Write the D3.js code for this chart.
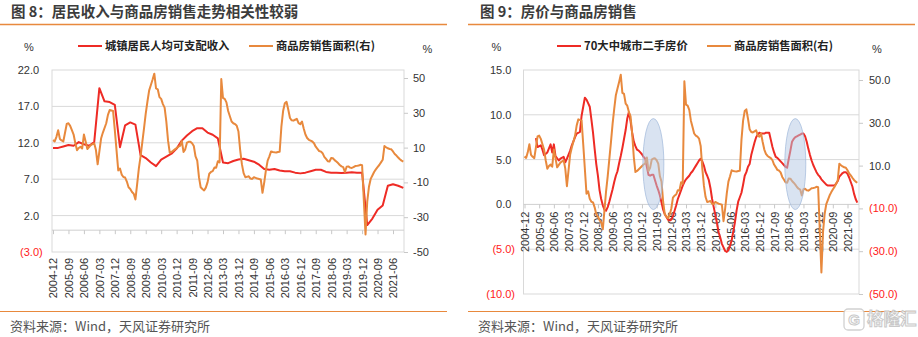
<!DOCTYPE html>
<html><head><meta charset="utf-8">
<script src="https://cdn.jsdelivr.net/npm/d3@7"></script>
<style>
body{margin:0;background:#fff;}
svg{display:block;}
.num{font-family:"Liberation Sans",Arial,sans-serif;}
.cjk{font-family:"Noto Sans CJK SC","Liberation Sans",sans-serif;}
</style>
</head><body>
<svg id="c" width="918" height="337"></svg>
<script>
// ---------------- DATA ----------------
const tickLabels = ["2004-12","2005-09","2006-06","2007-03","2007-12","2008-09","2009-06","2010-03","2010-12","2011-09","2012-06","2013-03","2013-12","2014-09","2015-06","2016-03","2016-12","2017-09","2018-06","2019-03","2019-12","2020-09","2021-06"];

// 城镇居民人均可支配收入 (%), quarterly
const incomeDates = ["2004-12","2005-03","2005-06","2005-09","2005-12","2006-03","2006-06","2006-09","2006-12","2007-03","2007-06","2007-09","2007-12","2008-03","2008-06","2008-09","2008-12","2009-03","2009-06","2009-09","2009-12","2010-03","2010-06","2010-09","2010-12","2011-03","2011-06","2011-09","2011-12","2012-03","2012-06","2012-09","2012-12","2013-03","2013-06","2013-09","2013-12","2014-03","2014-06","2014-09","2014-12","2015-03","2015-06","2015-09","2015-12","2016-03","2016-06","2016-09","2016-12","2017-03","2017-06","2017-09","2017-12","2018-03","2018-06","2018-09","2018-12","2019-03","2019-06","2019-09","2019-12","2020-03","2020-06","2020-09","2020-12","2021-03","2021-06","2021-09","2021-12"];
const incomeValues = [11.3,11.3,11.5,11.7,11.6,12.1,11.8,11.6,12.1,19.5,17.7,17.6,17.2,11.4,14.4,14.8,14.5,10.3,9.9,9.3,8.8,9.7,10.1,10.5,11.2,12.3,13.0,13.6,14.0,14.0,13.4,13.1,12.6,9.3,9.2,9.5,9.7,9.8,9.6,9.4,9.0,8.4,8.3,8.4,8.2,8.1,8.1,7.9,7.8,7.9,8.1,8.3,8.3,8.0,7.9,7.9,7.85,7.9,7.95,7.9,7.9,0.7,1.6,2.8,3.4,6.1,6.3,6.1,5.8];

// 商品房销售面积 (%, right axis), monthly
const salesDates = ["2004-12","2005-01","2005-02","2005-03","2005-04","2005-05","2005-06","2005-08","2005-09","2005-10","2005-11","2005-12","2006-01","2006-02","2006-03","2006-04","2006-05","2006-06","2006-07","2006-08","2006-10","2006-12","2007-01","2007-02","2007-04","2007-05","2007-07","2007-08","2007-09","2007-11","2007-12","2008-02","2008-03","2008-04","2008-05","2008-06","2008-07","2008-08","2008-09","2008-10","2008-11","2008-12","2009-01","2009-02","2009-03","2009-04","2009-05","2009-06","2009-07","2009-08","2009-09","2009-10","2009-11","2009-12","2010-01","2010-02","2010-03","2010-04","2010-05","2010-06","2010-07","2010-08","2010-09","2010-11","2011-01","2011-02","2011-03","2011-04","2011-05","2011-06","2011-07","2011-08","2011-09","2011-10","2011-11","2011-12","2012-01","2012-02","2012-03","2012-04","2012-05","2012-06","2012-07","2012-08","2012-09","2012-10","2012-11","2012-12","2013-01","2013-02","2013-03","2013-04","2013-05","2013-06","2013-07","2013-08","2013-09","2013-10","2013-11","2013-12","2014-01","2014-02","2014-03","2014-04","2014-05","2014-06","2014-07","2014-08","2014-09","2014-10","2014-11","2014-12","2015-01","2015-02","2015-03","2015-04","2015-05","2015-06","2015-07","2015-08","2015-09","2015-10","2015-11","2015-12","2016-01","2016-02","2016-03","2016-04","2016-05","2016-06","2016-07","2016-08","2016-09","2016-10","2016-11","2016-12","2017-01","2017-02","2017-03","2017-04","2017-05","2017-06","2017-07","2017-08","2017-09","2017-10","2017-11","2017-12","2018-01","2018-02","2018-03","2018-04","2018-05","2018-06","2018-07","2018-08","2018-09","2018-10","2018-11","2018-12","2019-01","2019-02","2019-03","2019-04","2019-05","2019-06","2019-07","2019-08","2019-09","2019-10","2019-11","2019-12","2020-02","2020-03","2020-04","2020-05","2020-06","2020-07","2020-08","2020-09","2020-10","2020-11","2020-12","2021-01","2021-02","2021-03","2021-04","2021-05","2021-06","2021-07","2021-08","2021-09","2021-10","2021-11","2021-12"];
const salesValues = [14.3,13.6,16.2,20.0,15.0,14.1,13.5,23.6,24.0,22.5,20.0,17.5,12.5,8.5,9.8,10.5,9.5,17.5,13.5,9.2,11.4,12.5,8.6,0.4,15.2,18.5,24.0,28.8,31.6,31.0,20.0,-3.1,-2.0,-5.5,-6.9,-7.2,-9.5,-12.8,-13.8,-15.5,-16.5,-19.8,-11.0,-2.0,5.0,13.0,21.0,29.5,36.5,42.9,46.0,49.1,52.5,44.0,43.5,39.0,38.0,35.0,33.0,24.9,14.0,7.0,7.5,9.0,10.5,11.0,13.8,7.5,9.0,12.8,13.3,13.4,12.5,10.9,5.0,2.5,-7.0,-12.8,-13.8,-14.6,-13.0,-10.0,-5.0,-4.0,-3.5,-1.5,-1.6,2.2,1.5,49.4,38.5,38.0,36.0,31.0,28.0,25.0,24.0,23.5,22.6,19.2,8.6,0.5,-4.7,-7.0,-6.8,-6.5,-7.8,-8.0,-7.0,-7.4,-7.8,-8.0,-8.3,-16.0,-10.1,-3.0,2.5,5.0,7.8,7.5,7.3,7.2,7.5,7.6,22.0,31.0,35.5,36.3,31.9,27.0,25.7,25.5,26.0,26.5,24.1,23.5,25.0,21.0,17.5,15.5,14.5,14.0,13.5,12.5,10.5,9.3,8.0,7.7,6.8,4.7,3.5,2.2,2.0,4.0,3.9,2.8,2.0,1.1,0.0,-0.8,-1.2,-4.0,-1.0,-0.8,-1.5,-1.7,-1.2,-0.6,-0.5,-0.3,0.1,-0.1,-39.9,-21.0,-12.5,-8.0,-6.0,-4.0,-2.5,-1.2,0.0,1.5,3.0,10.9,10.2,9.6,9.2,9.0,7.8,6.3,5.4,4.3,3.3,2.5,2.0];

// 70大中城市二手房价 (%), monthly
const priceDates = ["2005-07","2005-08","2005-10","2005-11","2005-12","2006-02","2006-04","2006-05","2006-06","2006-07","2006-09","2006-10","2006-12","2007-01","2007-02","2007-04","2007-05","2007-07","2007-08","2007-10","2007-11","2008-01","2008-02","2008-03","2008-04","2008-05","2008-06","2008-07","2008-08","2008-09","2008-10","2008-11","2008-12","2009-01","2009-02","2009-03","2009-04","2009-05","2009-06","2009-07","2009-08","2009-09","2009-10","2009-11","2009-12","2010-01","2010-02","2010-03","2010-04","2010-05","2010-06","2010-07","2010-08","2010-09","2010-10","2010-11","2010-12","2011-01","2011-02","2011-03","2011-04","2011-05","2011-06","2011-07","2011-08","2011-09","2011-10","2011-11","2011-12","2012-01","2012-02","2012-03","2012-04","2012-05","2012-06","2012-07","2012-08","2012-09","2012-10","2012-11","2012-12","2013-01","2013-02","2013-03","2013-04","2013-05","2013-06","2013-07","2013-08","2013-09","2013-10","2013-11","2013-12","2014-01","2014-02","2014-03","2014-04","2014-05","2014-06","2014-07","2014-08","2014-09","2014-10","2014-11","2014-12","2015-01","2015-02","2015-03","2015-04","2015-05","2015-06","2015-07","2015-08","2015-09","2015-10","2015-11","2015-12","2016-01","2016-02","2016-03","2016-04","2016-05","2016-06","2016-07","2016-08","2016-09","2016-10","2016-11","2016-12","2017-01","2017-02","2017-03","2017-04","2017-05","2017-06","2017-07","2017-08","2017-09","2017-10","2017-11","2017-12","2018-01","2018-02","2018-03","2018-04","2018-05","2018-06","2018-07","2018-08","2018-09","2018-10","2018-11","2018-12","2019-01","2019-02","2019-03","2019-04","2019-05","2019-06","2019-07","2019-08","2019-09","2019-10","2019-11","2019-12","2020-01","2020-02","2020-03","2020-04","2020-05","2020-06","2020-07","2020-08","2020-09","2020-10","2020-11","2020-12","2021-01","2021-02","2021-03","2021-04","2021-05","2021-06","2021-07","2021-08","2021-09","2021-10","2021-11","2021-12"];
const priceValues = [7.4,6.4,6.6,6.1,5.5,5.8,6.7,5.8,6.7,5.4,4.9,5.1,5.3,4.7,5.1,6.0,6.6,7.5,7.9,8.1,9.9,11.9,11.7,11.3,10.9,9.5,8.0,6.2,4.5,3.2,1.6,0.6,-0.1,-0.6,-0.7,-0.3,0.3,1.0,1.7,2.5,3.2,3.7,4.6,5.4,6.3,7.3,8.3,9.6,10.3,9.3,8.0,7.0,6.5,6.1,6.0,5.8,5.6,5.3,5.1,4.2,3.3,3.2,3.3,3.3,2.7,2.1,1.6,1.0,0.2,-0.6,-1.1,-1.4,-1.7,-1.8,-1.7,-1.3,-0.7,-0.1,0.6,1.1,1.6,2.1,2.5,2.8,3.0,3.2,3.5,3.7,4.0,4.3,4.6,4.9,5.1,4.8,4.3,3.6,3.2,2.7,1.8,0.6,-0.3,-1.2,-2.1,-3.1,-3.7,-4.4,-4.8,-5.2,-5.3,-5.1,-4.6,-4.0,-3.0,-2.0,-0.7,0.3,0.8,1.3,2.2,3.2,3.6,4.2,4.5,5.5,6.2,6.9,7.5,7.8,8.0,7.9,7.9,7.9,8.0,8.0,8.0,7.2,6.4,5.8,5.3,5.2,5.0,4.8,4.6,4.4,4.2,4.1,5.1,6.0,7.0,7.3,7.5,7.6,7.7,7.8,7.9,7.9,7.6,7.0,6.2,5.5,4.9,4.4,4.0,3.6,3.3,3.1,2.8,2.6,2.4,2.2,2.1,2.1,2.1,2.1,2.1,2.3,2.6,3.1,3.3,3.5,3.6,3.6,3.4,3.0,2.5,2.0,1.2,0.6,0.2];

// highlighted periods (ellipses) on 图9
const highlightMonths = ["2011-07","2018-10"];
const highlightLevel = [4.5, 4.5];

const leftTicksA = [-3,2,7,12,17,22];
const rightTicksA = [-50,-30,-10,10,30,50];
const leftTicksB = [-10,-5,0,5,10,15];
const rightTicksB = [-50,-30,-10,10,30,50];

// ---------------- HELPERS ----------------
const RED = "#ee2b25", ORANGE = "#e8893d", GRID = "#d9d9d9", TXT = "#333333", NEG = "#ff1a1a", RULE = "#e8893d";
const monthIndex = s => { const [y, m] = s.split("-").map(Number); return (y - 2004) * 12 + m - 12; };
const zip = (ds, vs) => ds.map((d, i) => ({ m: monthIndex(d), v: vs[i] }));
const paren1 = v => v < 0 ? "(" + Math.abs(v).toFixed(1) + ")" : v.toFixed(1);

const svg = d3.select("#c");

function chart(o) {
  const g = svg.append("g");
  const x = d3.scaleLinear().domain([0, 198]).range(o.xLab);
  const yL = d3.scaleLinear().domain(o.yLdom).range([o.b, o.t]);
  const yR = d3.scaleLinear().domain([-50, 50]).range([o.b, o.rTop]);

  g.append("g").selectAll("line").data(o.grid).join("line")
    .attr("x1", o.l).attr("x2", o.r).attr("y1", d => yL(d)).attr("y2", d => yL(d))
    .attr("stroke", GRID).attr("stroke-width", 1);
  g.append("rect").attr("x", o.l).attr("y", o.t).attr("width", o.r - o.l).attr("height", o.b - o.t)
    .attr("fill", "none").attr("stroke", GRID).attr("stroke-width", 1);

  const xAxis = d3.axisBottom(x).tickValues(tickLabels.map(monthIndex))
    .tickFormat(m => tickLabels.find(s => monthIndex(s) === m)).tickSize(4).tickSizeOuter(0);
  const ax = g.append("g").attr("transform", `translate(0,${yL(0)})`).call(xAxis);
  ax.select(".domain").attr("d", `M${o.l},0H${o.r}`).attr("stroke", "#cfcfcf");
  ax.selectAll(".tick line").attr("stroke", "#c8c8c8");
  ax.selectAll(".tick text").attr("class", "num").attr("font-size", 11).attr("fill", TXT)
    .attr("transform", "rotate(-90)").attr("text-anchor", "end")
    .attr("x", -(o.labTop - yL(0))).attr("y", 0).attr("dy", "0.36em");

  const la = g.append("g").attr("transform", `translate(${o.lLabX},0)`)
    .call(d3.axisLeft(yL).tickValues(o.lTicks).tickFormat(paren1).tickSize(0).tickPadding(0));
  la.select(".domain").remove();
  la.selectAll("text").attr("class", "num").attr("font-size", 11)
    .attr("fill", d => d < 0 ? NEG : TXT).attr("dx", d => d < 0 ? 0 : -3.6);

  const ra = g.append("g").attr("transform", `translate(${o.r},0)`)
    .call(d3.axisRight(yR).tickValues(o.rTicks).tickFormat(o.rFmt).tickSize(4).tickPadding(o.rLabX - o.r - 4));
  ra.select(".domain").remove();
  ra.selectAll("line").attr("stroke", "#c8c8c8");
  ra.selectAll("text").attr("class", "num").attr("font-size", 11)
    .attr("fill", d => (d < 0 && o.rNegRed) ? NEG : TXT);

  const lineL = d3.line().x(d => x(d.m)).y(d => yL(d.v));
  const lineR = d3.line().x(d => x(d.m)).y(d => yR(d.v));
  g.append("path").datum(zip(o.lDates, o.lVals)).attr("d", lineL)
    .attr("fill", "none").attr("stroke", RED).attr("stroke-width", 2).attr("stroke-linejoin", "round");
  g.append("path").datum(zip(salesDates, salesValues)).attr("d", lineR)
    .attr("fill", "none").attr("stroke", ORANGE).attr("stroke-width", 2).attr("stroke-linejoin", "round");

  if (o.ellipses) {
    g.append("g").selectAll("ellipse").data(highlightMonths).join("ellipse")
      .attr("cx", d => x(monthIndex(d))).attr("cy", (d, i) => yL(highlightLevel[i]))
      .attr("rx", 10.5).attr("ry", 45.5)
      .attr("fill", "#b3c8e4").attr("fill-opacity", 0.5)
      .attr("stroke", "#9fb8da").attr("stroke-opacity", 0.7).attr("stroke-width", 1);
  }

  const lg = g.append("g");
  lg.append("text").attr("class", "num").attr("x", o.pctL).attr("y", 47).attr("dy", "0.35em")
    .attr("text-anchor", "middle").attr("font-size", 11).attr("fill", TXT).text("%");
  lg.append("text").attr("class", "num").attr("x", o.pctR).attr("y", 49).attr("dy", "0.35em")
    .attr("text-anchor", "middle").attr("font-size", 11).attr("fill", TXT).text("%");
  o.legend.forEach(it => {
    lg.append("line").attr("x1", it.x).attr("x2", it.x + 24).attr("y1", 46).attr("y2", 46)
      .attr("stroke", it.c).attr("stroke-width", 2);
    lg.append("text").attr("class", "cjk").attr("x", it.x + 27).attr("y", 46).attr("dy", "0.36em")
      .attr("font-size", 11.3).attr("font-weight", "bold").attr("fill", "#222").text(it.t);
  });

  g.append("text").attr("class", "cjk").attr("x", o.titleX).attr("y", 12).attr("dy", "0.36em")
    .attr("font-size", 14.5).attr("font-weight", "bold").attr("fill", "#3c3c3c").text(o.title);
  g.append("line").attr("x1", o.ruleL).attr("x2", o.ruleR).attr("y1", 24.5).attr("y2", 24.5)
    .attr("stroke", RULE).attr("stroke-width", 1.5);
  g.append("line").attr("x1", o.ruleL).attr("x2", o.ruleR).attr("y1", 311.5).attr("y2", 311.5)
    .attr("stroke", RULE).attr("stroke-width", 1.2);
  g.append("text").attr("class", "cjk").attr("x", o.srcX).attr("y", 326.5).attr("dy", "0.36em")
    .attr("font-size", 13).attr("fill", "#555").text("资料来源：Wind，天风证券研究所");
}

chart({
  l: 52, r: 404, t: 70, b: 252, rTop: 78, xLab: [53, 393],
  yLdom: [-3, 22], grid: [2, 7, 12, 17], lTicks: leftTicksA, rTicks: rightTicksA,
  rFmt: d => String(d), rNegRed: false, lLabX: 42.7, rLabX: 413, labTop: 258,
  lDates: incomeDates, lVals: incomeValues, ellipses: false,
  pctL: 29, pctR: 427.5,
  legend: [{ x: 78, c: RED, t: "城镇居民人均可支配收入" }, { x: 249, c: ORANGE, t: "商品房销售面积(右)" }],
  title: "图 8：居民收入与商品房销售走势相关性较弱", titleX: 11, ruleL: 0, ruleR: 447, srcX: 10
});

chart({
  l: 523.5, r: 859, t: 70, b: 294, rTop: 80, xLab: [524.5, 847.5],
  yLdom: [-10, 15], grid: [-5, 5, 10], lTicks: leftTicksB, rTicks: rightTicksB,
  rFmt: paren1, rNegRed: true, lLabX: 515, rLabX: 869, labTop: 211.7,
  lDates: priceDates, lVals: priceValues, ellipses: true,
  pctL: 496.5, pctR: 877,
  legend: [{ x: 557, c: RED, t: "70大中城市二手房价" }, { x: 707, c: ORANGE, t: "商品房销售面积(右)" }],
  title: "图 9：房价与商品房销售", titleX: 480, ruleL: 468, ruleR: 915, srcX: 478
});

// watermark
const wm = svg.append("g").attr("opacity", 0.9);
wm.append("rect").attr("x", 844).attr("y", 309).attr("width", 20).attr("height", 21).attr("rx", 4)
  .attr("fill", "#fff").attr("stroke", "#cdcdcd").attr("stroke-width", 1.3);
wm.append("text").attr("class", "num").attr("x", 854).attr("y", 319.5).attr("dy", "0.36em")
  .attr("text-anchor", "middle").attr("font-size", 15).attr("font-weight", "bold")
  .attr("fill", "#fff").attr("stroke", "#c4c4c4").attr("stroke-width", 1).text("G");
wm.append("text").attr("class", "cjk").attr("x", 867).attr("y", 319.5).attr("dy", "0.36em")
  .attr("font-size", 16.5).attr("font-weight", "bold")
  .attr("fill", "#fff").attr("stroke", "#c4c4c4").attr("stroke-width", 1).text("格隆汇");
</script>
</body></html>
